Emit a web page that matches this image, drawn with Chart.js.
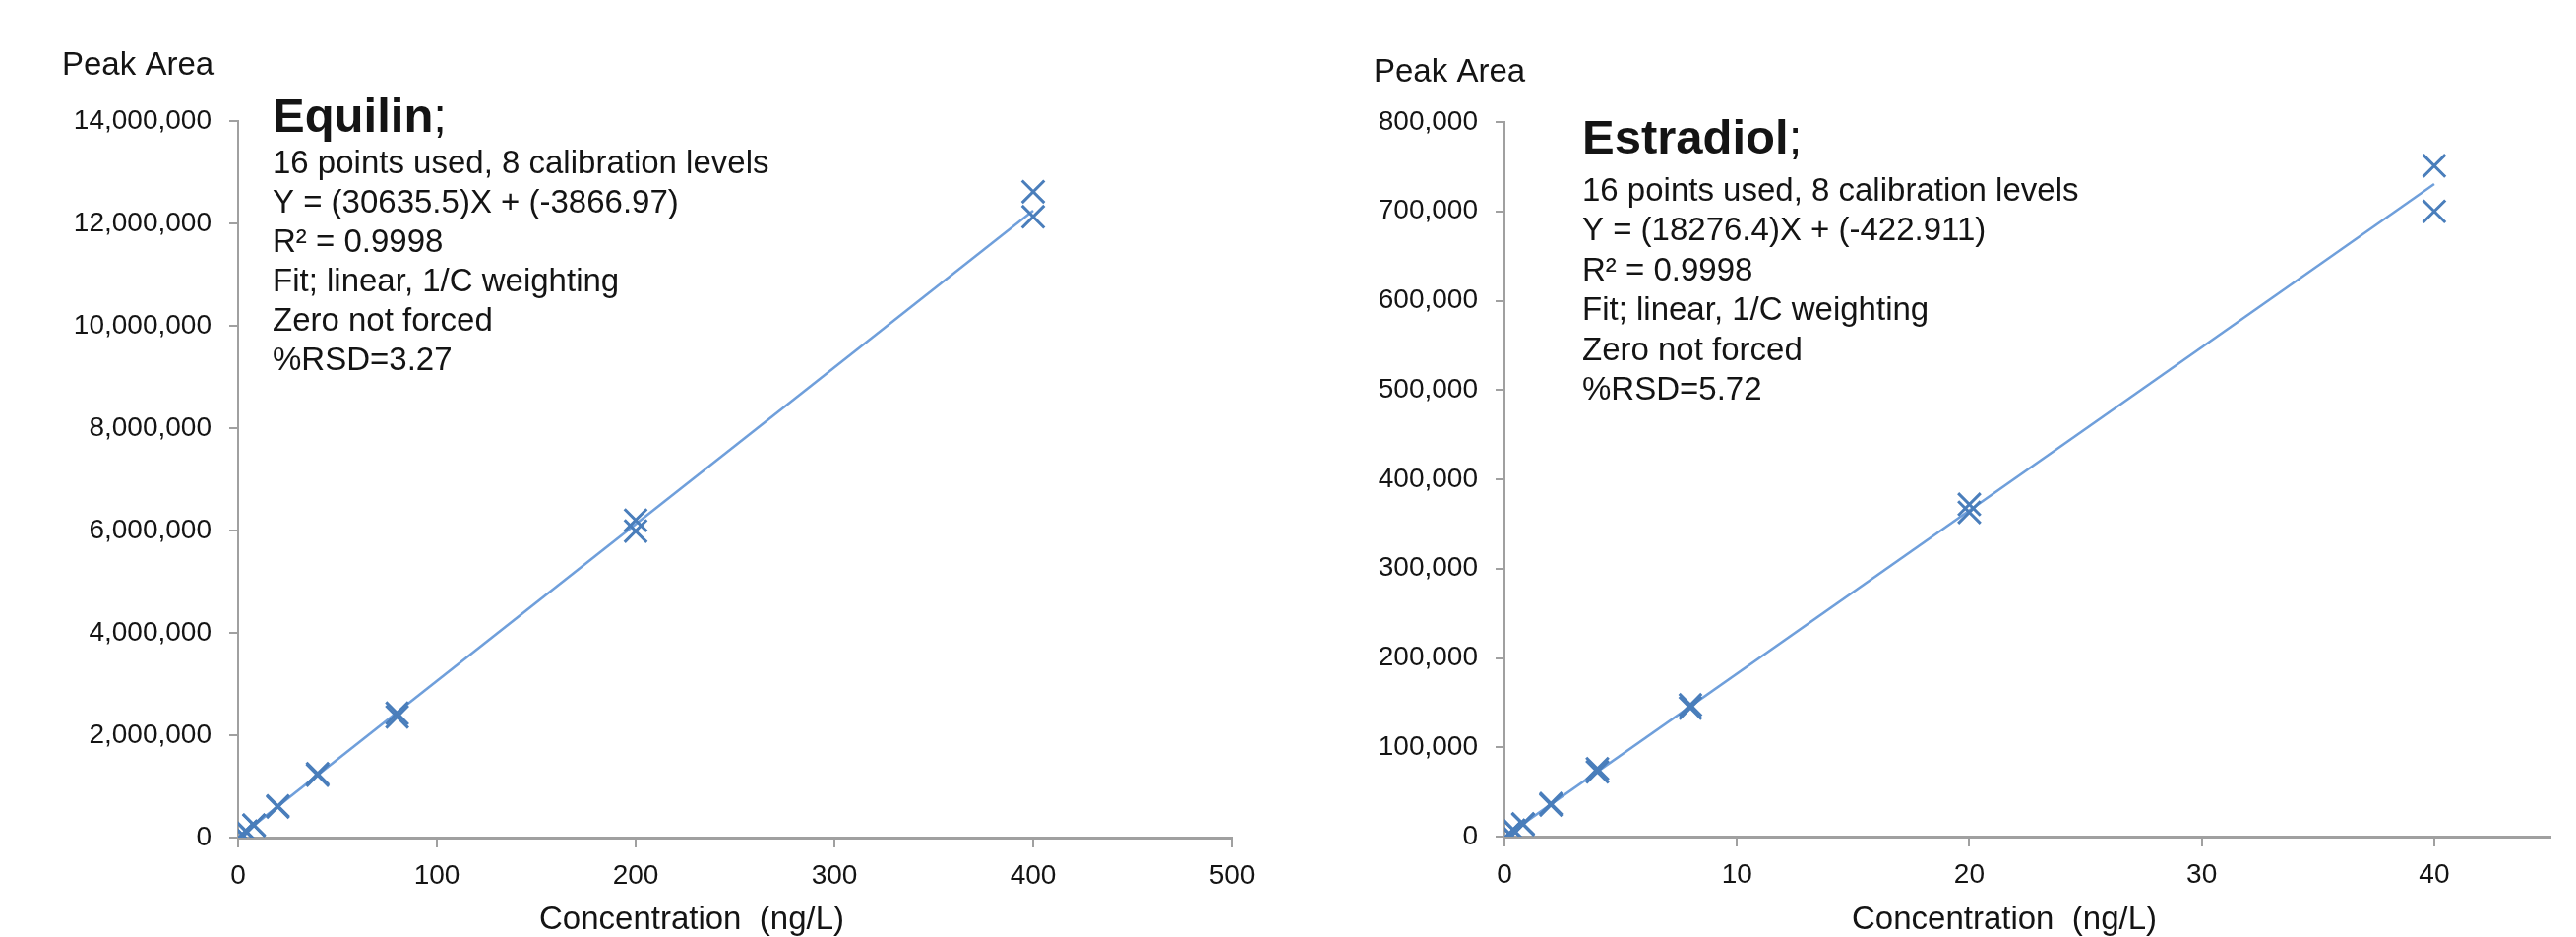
<!DOCTYPE html>
<html>
<head>
<meta charset="utf-8">
<script src="https://cdn.jsdelivr.net/npm/chart.js@4.4.0/dist/chart.umd.min.js"></script>
<style>
  html, body { margin: 0; padding: 0; background: #fff; }
  body { width: 2618px; height: 952px; position: relative; overflow: hidden; }
  .box { position: absolute; top: 0; height: 952px; }
  #left { left: 0; width: 1300px; }
  #right { left: 1300px; width: 1318px; }
</style>
</head>
<body>
<div class="box" id="left"><canvas id="c1" width="1300" height="952"></canvas></div>
<div class="box" id="right"><canvas id="c2" width="1318" height="952"></canvas></div>
<script>
// Equilin calibration points (ng/L, peak area)
const equilinConc = [2, 2, 4, 4, 8, 8, 20, 20, 40, 40, 80, 80, 200, 200, 400, 400];
const equilinArea = [62000, 55000, 125000, 118000, 245000, 238000, 620000, 600000,
  1250000, 1220000, 2430000, 2360000, 6200000, 5990000, 12620000, 12130000];
const equilinFitX = [0, 400];
const equilinFitY = [-3867, 12250333];
const equilinTitle = 'Equilin';
const equilinLines = ['16 points used, 8 calibration levels', 'Y = (30635.5)X + (-3866.97)',
  'R² = 0.9998', 'Fit; linear, 1/C weighting', 'Zero not forced', '%RSD=3.27'];

// Estradiol calibration points
const estradiolConc = [0.2, 0.2, 0.4, 0.4, 0.8, 0.8, 2, 2, 4, 4, 8, 8, 20, 20, 40, 40];
const estradiolArea = [3500, 3300, 7100, 6800, 14200, 13600, 37000, 35500,
  76000, 72500, 147500, 144000, 372000, 363000, 751000, 700000];
const estradiolFitX = [0, 40];
const estradiolFitY = [-423, 730633];
const estradiolTitle = 'Estradiol';
const estradiolLines = ['16 points used, 8 calibration levels', 'Y = (18276.4)X + (-422.911)',
  'R² = 0.9998', 'Fit; linear, 1/C weighting', 'Zero not forced', '%RSD=5.72'];

const yTitle = 'Peak Area';
const xTitle = 'Concentration  (ng/L)';

const FONT = '"Liberation Sans", Arial, sans-serif';
const TEXT_COLOR = '#141414';
const AXIS_COLOR = '#a0a0a0';
const MARK_COLOR = '#4a7ebb';
const LINE_COLOR = '#6f9fdb';

function toPoints(xs, ys) {
  return xs.map((x, i) => ({ x: x, y: ys[i] }));
}

// draws the axis captions and the fit summary box
function textPlugin(cfg) {
  return {
    id: 'notes',
    afterDraw(chart) {
      const ctx = chart.ctx;
      ctx.save();
      ctx.fillStyle = TEXT_COLOR;
      ctx.textBaseline = 'middle';
      ctx.textAlign = 'left';

      ctx.font = '33px ' + FONT;
      ctx.fillText(yTitle, cfg.yTitleX, cfg.yTitleY);
      ctx.fillText(xTitle, cfg.xTitleX, cfg.xTitleY);

      ctx.font = 'bold 49px ' + FONT;
      ctx.fillText(cfg.title, cfg.noteX, cfg.titleY);
      const w = ctx.measureText(cfg.title).width;
      ctx.font = '49px ' + FONT;
      ctx.fillText(';', cfg.noteX + w, cfg.titleY);

      ctx.font = '33px ' + FONT;
      cfg.lines.forEach((line, i) => {
        ctx.fillText(line, cfg.noteX, cfg.lineY + i * cfg.lineGap);
      });
      ctx.restore();
    }
  };
}

function makeChart(id, opts) {
  const ctx = document.getElementById(id).getContext('2d');
  return new Chart(ctx, {
    type: 'scatter',
    data: {
      datasets: [{
        data: toPoints(opts.conc, opts.area),
        showLine: false,
        pointStyle: 'crossRot',
        pointRadius: 16,
        pointBorderWidth: 3,
        borderColor: MARK_COLOR,
        backgroundColor: 'rgba(0,0,0,0)'
      }, {
        data: toPoints(opts.fitX, opts.fitY),
        showLine: true,
        pointRadius: 0,
        borderColor: LINE_COLOR,
        borderWidth: 2.5,
        fill: false
      }]
    },
    options: {
      responsive: false,
      animation: false,
      devicePixelRatio: 1,
      layout: { padding: opts.padding },
      plugins: {
        legend: { display: false },
        tooltip: { enabled: false }
      },
      scales: {
        x: {
          type: 'linear',
          min: 0,
          max: opts.xMax,
          afterFit: s => { s.height = opts.xHeight; },
          afterBuildTicks: s => { s.ticks = s.ticks.filter(t => t.value % opts.xStep === 0); },
          ticks: {
            stepSize: opts.xStep,
            color: TEXT_COLOR,
            padding: 12,
            maxRotation: 0,
            font: { family: FONT, size: 28 }
          },
          grid: { drawOnChartArea: false, tickLength: 10, color: AXIS_COLOR, lineWidth: 2 },
          border: { color: AXIS_COLOR, width: 3 }
        },
        y: {
          type: 'linear',
          min: 0,
          max: opts.yMax,
          afterFit: s => { s.width = opts.yWidth; },
          ticks: {
            stepSize: opts.yStep,
            color: TEXT_COLOR,
            padding: 18,
            font: { family: FONT, size: 28 },
            callback: v => v.toLocaleString('en-US')
          },
          grid: { drawOnChartArea: false, tickLength: 9, color: AXIS_COLOR, lineWidth: 2 },
          border: { color: AXIS_COLOR, width: 2 }
        }
      }
    },
    plugins: [textPlugin(opts.text)]
  });
}

makeChart('c1', {
  conc: equilinConc, area: equilinArea, fitX: equilinFitX, fitY: equilinFitY,
  xMax: 500, xStep: 100, yMax: 14000000, yStep: 2000000,
  padding: { left: 0, top: 123, right: 48, bottom: 0 },
  yWidth: 242, xHeight: 101,
  text: {
    title: equilinTitle, lines: equilinLines,
    yTitleX: 63, yTitleY: 67, xTitleX: 548, xTitleY: 935,
    noteX: 277, titleY: 120, lineY: 167, lineGap: 40
  }
});

makeChart('c2', {
  conc: estradiolConc, area: estradiolArea, fitX: estradiolFitX, fitY: estradiolFitY,
  xMax: 45, xStep: 10, yMax: 800000, yStep: 100000,
  padding: { left: 0, top: 124, right: 26, bottom: 0 },
  yWidth: 229, xHeight: 102,
  text: {
    title: estradiolTitle, lines: estradiolLines,
    yTitleX: 96, yTitleY: 74, xTitleX: 582, xTitleY: 935,
    noteX: 308, titleY: 142, lineY: 195, lineGap: 40.4
  }
});
</script>
</body>
</html>
